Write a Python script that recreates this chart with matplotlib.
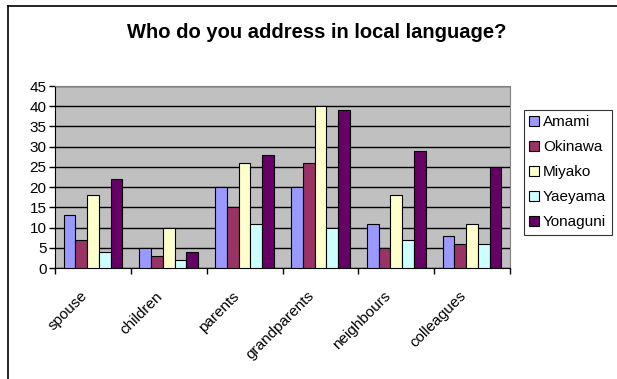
import numpy as np
import matplotlib.pyplot as plt
import matplotlib.transforms as mtransforms
from matplotlib.lines import Line2D

plt.rcParams['font.family'] = ['Liberation Sans', 'DejaVu Sans']

# Data
categories = ['spouse', 'children', 'parents', 'grandparents', 'neighbours', 'colleagues']
series = ['Amami', 'Okinawa', 'Miyako', 'Yaeyama', 'Yonaguni']
amami    = [13, 5, 20, 20, 11, 8]
okinawa  = [7, 3, 15, 26, 5, 6]
miyako   = [18, 10, 26, 40, 18, 11]
yaeyama  = [4, 2, 11, 10, 7, 6]
yonaguni = [22, 4, 28, 39, 29, 25]
values = [amami, okinawa, miyako, yaeyama, yonaguni]
colors = ['#9999FF', '#993366', '#FFFFCC', '#CCFFFF', '#660066']

# %%
fig = plt.figure(figsize=(6.17, 3.79), dpi=100)
ax = fig.add_axes([55/617, 1 - 268/379, 455/617, 182/379])
ax.set_facecolor('#C0C0C0')

x = np.arange(len(categories))
w = 0.155
for i, (name, vals) in enumerate(zip(series, values)):
    ax.bar(x + (i - 2) * w, vals, w, color=colors[i], edgecolor='black',
           linewidth=0.8, label=name, zorder=3)

ax.set_xlim(-0.5, len(categories) - 0.5)
ax.set_ylim(0, 45)
ax.set_yticks(range(0, 46, 5))
ax.yaxis.grid(True, color='black', linewidth=1, zorder=1)
ax.set_axisbelow(True)

# x ticks between categories, labels at centres
ax.set_xticks(x)
ax.set_xticks(np.arange(-0.5, len(categories), 1), minor=True)
ax.tick_params(axis='x', which='major', length=0)
ax.tick_params(axis='x', which='minor', length=4, width=1, color='black')
ax.tick_params(axis='y', length=4, width=1, labelsize=11, pad=2)
offset = mtransforms.ScaledTranslation(-8/100, -21/100, fig.dpi_scale_trans)
ax.set_xticklabels(categories, fontsize=11, rotation=45, ha='right',
                   va='center', rotation_mode='anchor')
for lbl in ax.get_xticklabels():
    lbl.set_transform(lbl.get_transform() + offset)

for s in ['top', 'right']:
    ax.spines[s].set_color('#808080')
for s in ['left', 'bottom']:
    ax.spines[s].set_color('black')

fig.text(317/617, 1 - 32/379, 'Who do you address in local language?',
         ha='center', va='center', fontsize=14.5, fontweight='bold')

leg = ax.legend(loc='upper left', bbox_to_anchor=(524/617, 1 - 110/379),
                bbox_transform=fig.transFigure, fontsize=11, frameon=True,
                fancybox=False, edgecolor='black', handlelength=0.6,
                handleheight=0.6, handletextpad=0.3, labelspacing=0.72,
                borderpad=0.35, borderaxespad=0)
leg.get_frame().set_linewidth(0.8)

# outer border
fig.add_artist(Line2D([8/617, 1], [1 - 6/379, 1 - 6/379], color='black', lw=1.2))
fig.add_artist(Line2D([8/617, 8/617], [0, 1 - 6/379], color='black', lw=1.2))

plt.savefig('out.png', dpi=100)
